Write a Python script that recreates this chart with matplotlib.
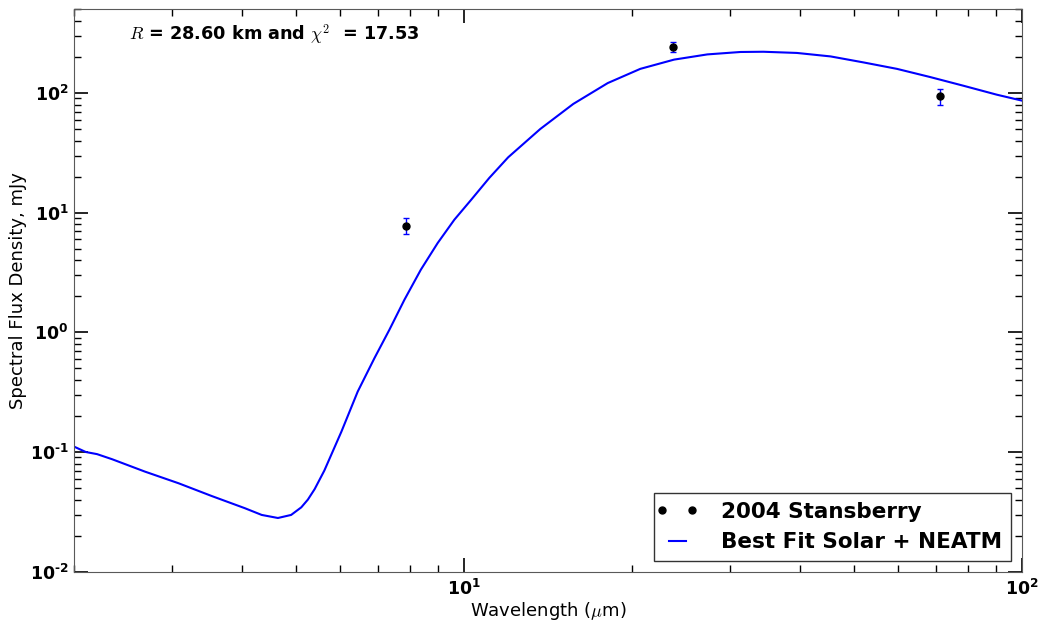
import matplotlib
matplotlib.use('Agg')
import matplotlib.pyplot as plt
import numpy as np
from matplotlib.ticker import FuncFormatter, LogLocator, NullFormatter
from matplotlib.legend_handler import HandlerLine2D

plt.rcParams['mathtext.fontset'] = 'dejavusans'

# best fit model (solar reflected + NEATM thermal)
wl_fit = [2.0, 2.1, 2.2, 2.34, 2.68, 3.08, 3.53, 4.05, 4.34, 4.64, 4.90, 5.11,
          5.25, 5.40, 5.62, 6.03, 6.45, 6.91, 7.35, 7.82, 8.37, 8.97, 9.61,
          10.3, 11.1, 12.0, 13.7, 15.7, 18.1, 20.7, 23.8, 27.3, 31.3, 34.4,
          39.5, 45.4, 52.0, 59.7, 68.4, 78.5, 90.1, 100.0]
flux_fit = [0.111, 0.100, 0.096, 0.0871, 0.0686, 0.0548, 0.0429, 0.0339, 0.0298,
            0.0281, 0.0298, 0.0345, 0.0400, 0.0490, 0.0700, 0.148, 0.320, 0.608,
            1.05, 1.87, 3.34, 5.57, 8.73, 12.8, 19.5, 29.0, 50.0, 81.0, 121,
            159, 190, 210, 220, 221, 216, 202, 180, 159, 136, 115, 96.8, 86.3]

# Spitzer observations
obs_wl = [7.87, 23.68, 71.42]
obs_flux = [7.8, 242, 94]
obs_err = [1.2, 24, 14]

fig = plt.figure(figsize=(10.39, 6.21), dpi=100)
ax = fig.add_axes([0.0712, 0.0794, 0.9124, 0.9056])

line, = ax.plot(wl_fit, flux_fit, color='blue', lw=1.5)
ax.errorbar(obs_wl, obs_flux, yerr=obs_err, fmt='none', ecolor='blue',
            elinewidth=1, capsize=2, capthick=1)
pts, = ax.plot(obs_wl, obs_flux, 'o', color='black', ms=5)

ax.set_xscale('log')
ax.set_yscale('log')
ax.set_xlim(2, 100)
ax.set_ylim(0.01, 500)

# short hyphen in the exponent like the original
fmt = FuncFormatter(
    lambda v, p: r'$\mathbf{10^{%s}}$' % str(round(np.log10(v))).replace('-', '\u2010'))
ax.xaxis.set_major_locator(LogLocator(base=10))
ax.yaxis.set_major_locator(LogLocator(base=10))
ax.xaxis.set_major_formatter(fmt)
ax.yaxis.set_major_formatter(fmt)
ax.xaxis.set_minor_formatter(NullFormatter())
ax.yaxis.set_minor_formatter(NullFormatter())

ax.tick_params(which='both', direction='in', top=True, right=True, labelsize=12.5)
ax.tick_params(which='major', length=10, width=1.2)
ax.tick_params(which='minor', length=5, width=1)
ax.tick_params(axis='x', pad=5)
ax.tick_params(axis='y', pad=4)
for s in ax.spines.values():
    s.set_color('0.35')

ax.set_xlabel(r'Wavelength ($\mu$m)', fontsize=13, math_fontfamily='cm')
ax.set_ylabel('Spectral Flux Density, mJy', fontsize=13)
ax.xaxis.set_label_coords(0.5, -0.05)
ax.yaxis.set_label_coords(-0.05, 0.5)

ax.text(0.058, 0.954, r'$R$ = 28.60 km and $\chi^2$  = 17.53',
        transform=ax.transAxes, fontsize=12.7, fontweight='bold',
        math_fontfamily='cm', va='center')

leg = ax.legend([pts, line], ['2004 Stansberry', 'Best Fit Solar + NEATM'],
                loc='lower right', numpoints=2, fancybox=False,
                prop={'weight': 'bold', 'size': 15.5}, handlelength=1.4,
                handletextpad=1.35, borderaxespad=0.5, framealpha=1,
                handler_map={pts: HandlerLine2D(marker_pad=0)})
leg.get_frame().set_edgecolor('0.2')
leg.get_frame().set_linewidth(1)

fig.savefig('out.png', dpi=100)
